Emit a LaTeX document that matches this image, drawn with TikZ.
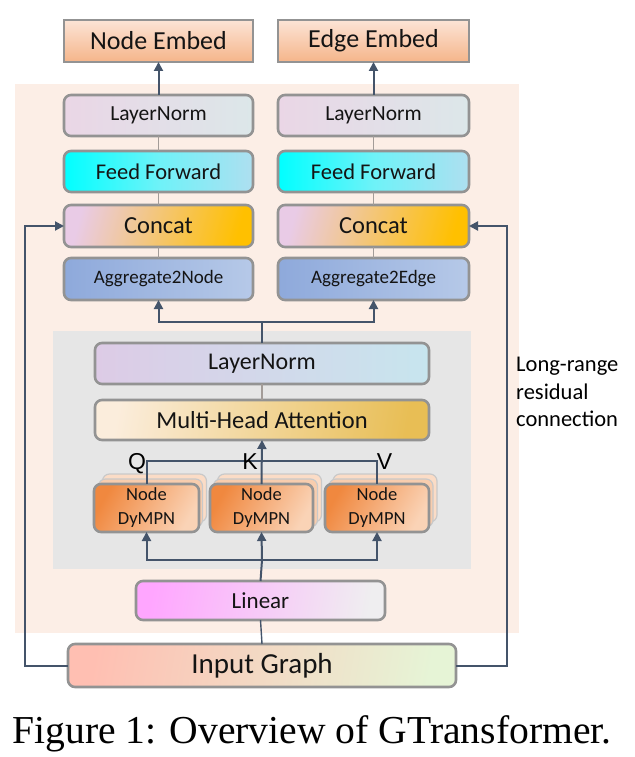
\documentclass[tikz,border=0pt]{standalone}
\usepackage{fontspec}
\setmainfont{Carlito}
\newfontfamily\qfont{Liberation Sans}
\newfontfamily\capfont{Liberation Serif}
\usetikzlibrary{arrows.meta}
\definecolor{bgpeach}{HTML}{FCEEE6}
\definecolor{graybg}{HTML}{E6E6E6}
\definecolor{bord}{HTML}{939393}
\definecolor{lnc}{HTML}{44546A}
\definecolor{thinc}{HTML}{A39C98}
\definecolor{txt}{HTML}{141414}
\definecolor{neT}{HTML}{FCE4D6}
\definecolor{neB}{HTML}{F5B58A}
\definecolor{lnL}{HTML}{EAD6E6}
\definecolor{lnR}{HTML}{DCE7E9}
\definecolor{ffL}{HTML}{00FFFF}
\definecolor{ffM}{HTML}{6EF2F8}
\definecolor{ffR}{HTML}{AEDFF0}
\definecolor{ccL}{HTML}{E9CBE6}
\definecolor{ccM}{HTML}{EFBFB6}
\definecolor{ccR}{HTML}{FFC000}
\definecolor{agL}{HTML}{8EA9DB}
\definecolor{agR}{HTML}{B6C9E8}
\definecolor{lmL}{HTML}{DDCBE6}
\definecolor{lmR}{HTML}{C7E5EE}
\definecolor{maL}{HTML}{FBEDDC}
\definecolor{maR}{HTML}{E8BE55}
\definecolor{dyL}{HTML}{F0883F}
\definecolor{dyR}{HTML}{FAD3B6}
\definecolor{sh1}{HTML}{FBDCC6}
\definecolor{sh2}{HTML}{F8CDAE}
\definecolor{liL}{HTML}{FFA6FF}
\definecolor{liM}{HTML}{F8D2F4}
\definecolor{liR}{HTML}{EFEEF0}
\definecolor{igL}{HTML}{FFBFB2}
\definecolor{igM}{HTML}{F8DCC6}
\definecolor{igR}{HTML}{E6F4D6}
\newcommand{\fs}[2]{\fontsize{#1}{#2}\selectfont}
\tikzset{
  x=1pt, y=-1pt,
  box/.style={draw=bord, line width=2.6pt, rounded corners=7pt, inner sep=0pt, outer sep=0pt, text=txt, align=center},
  sqbox/.style={draw=bord, line width=2.6pt, inner sep=0pt, outer sep=0pt, text=txt, align=center},
  conn/.style={draw=lnc, line width=2pt},
  arr/.style={draw=lnc, line width=2pt, -{Triangle[length=9pt,width=9pt]}},
  thin/.style={draw=thinc, line width=1.3pt},
  shadowlayer/.style={draw=bord!50, line width=1.2pt, rounded corners=7pt, fill=#1, minimum width=104pt, minimum height=48pt, inner sep=0pt, outer sep=0pt}
}
\begin{document}
\begin{tikzpicture}
\useasboundingbox (0,0) rectangle (634,757);
% backgrounds
\fill[bgpeach] (15,84) rectangle (519,633);
\fill[graybg] (53,331) rectangle (471,569);
% top embeds
\node[sqbox, top color=neT, bottom color=neB, minimum width=189pt, minimum height=42pt, font=\fs{26}{30}] (ne) at (158.5,41) {Node Embed};
\node[sqbox, top color=neT, bottom color=neB, minimum width=191pt, minimum height=42pt, font=\fs{26}{30}] (ee) at (373.5,41) {Edge Embed};
% left column
\node[box, left color=lnL, right color=lnR, minimum width=189pt, minimum height=41pt, font=\fs{21.5}{25}] (ln1) at (158.5,115.5) {LayerNorm};
\node[box, left color=ffL, right color=ffR, middle color=ffM, minimum width=189pt, minimum height=41pt, font=\fs{22.5}{26}] (ff1) at (158.5,171.5) {Feed Forward};
\node[box, left color=ccL, middle color=ccM, right color=ccR, shading angle=75, minimum width=189pt, minimum height=42pt, font=\fs{24.5}{28}] (cc1) at (158.5,226) {Concat};
\node[box, left color=agL, right color=agR, minimum width=189pt, minimum height=42pt, font=\fs{19}{23}] (ag1) at (158.5,279) {Aggregate2Node};
% right column
\node[box, left color=lnL, right color=lnR, minimum width=191pt, minimum height=41pt, font=\fs{21.5}{25}] (ln1r) at (373.5,115.5) {LayerNorm};
\node[box, left color=ffL, right color=ffR, middle color=ffM, minimum width=191pt, minimum height=41pt, font=\fs{22.5}{26}] (ff1r) at (373.5,171.5) {Feed Forward};
\node[box, left color=ccL, middle color=ccM, right color=ccR, shading angle=75, minimum width=191pt, minimum height=42pt, font=\fs{24.5}{28}] (cc1r) at (373.5,226) {Concat};
\node[box, left color=agL, right color=agR, minimum width=191pt, minimum height=42pt, font=\fs{19}{23}] (ag1r) at (373.5,279) {Aggregate2Edge};
% middle block
\node[box, left color=lmL, right color=lmR, minimum width=334pt, minimum height=41pt, font=\fs{24}{28}] (ln2) at (262,363.5) {LayerNorm};
\node[box, left color=maL, right color=maR, shading angle=80, minimum width=334pt, minimum height=40pt, font=\fs{24.5}{28}] (mha) at (262,420) {Multi-Head Attention};
% DyMPN stacks
\foreach \cx in {146.5, 261.5, 377}{
  \node[shadowlayer=sh1] at (\cx+8,498) {};
  \node[shadowlayer=sh2] at (\cx+4,503) {};
}
\node[box, left color=dyL, right color=dyR, shading angle=60, minimum width=105pt, minimum height=48pt, font=\fs{18.5}{24}] (d1) at (146.5,508) {Node\\DyMPN};
\node[box, left color=dyL, right color=dyR, shading angle=60, minimum width=103pt, minimum height=48pt, font=\fs{18.5}{24}] (d2) at (261.5,508) {Node\\DyMPN};
\node[box, left color=dyL, right color=dyR, shading angle=60, minimum width=104pt, minimum height=48pt, font=\fs{18.5}{24}] (d3) at (377,508) {Node\\DyMPN};
% linear and input
\node[box, left color=liL, middle color=liM, right color=liR, shading angle=80, minimum width=249pt, minimum height=39pt, font=\fs{23}{27}] (lin) at (260.5,600.5) {Linear};
\node[box, left color=igL, middle color=igM, right color=igR, shading angle=80, minimum width=388pt, minimum height=43pt, font=\fs{29}{33}] (ig) at (262,665.5) {Input Graph};
% coordinates
\coordinate (tj) at (262,322);
\coordinate (tl) at (158.5,322);
\coordinate (tr) at (373.5,322);
\coordinate (qa) at (146.5,461);
\coordinate (va) at (377,461);
\coordinate (bj) at (262,560);
\coordinate (bl) at (146.5,560);
\coordinate (br) at (377,560);
\coordinate (rl1) at (25,665.5);
\coordinate (rl2) at (25,226);
\coordinate (rr1) at (507,665.5);
\coordinate (rr2) at (507,226);
% connectors top
\draw[arr] (ln1.north) -- (ne.south);
\draw[arr] (ln1r.north) -- (ee.south);
\draw[thin] (ln1.south) -- (ff1.north);
\draw[thin] (ff1.south) -- (cc1.north);
\draw[thin] (cc1.south) -- (ag1.north);
\draw[thin] (ln1r.south) -- (ff1r.north);
\draw[thin] (ff1r.south) -- (cc1r.north);
\draw[thin] (cc1r.south) -- (ag1r.north);
\draw[conn] (ln2.north) -- (tj);
\draw[arr] (tj) -- (tl) -- (ag1.south);
\draw[arr] (tj) -- (tr) -- (ag1r.south);
\draw[thin] (ln2.south) -- (mha.north);
% QKV
\draw[conn] (d1.north) -- (qa) -- (va) -- (d3.north);
\draw[arr] (d2.north) -- (mha.south);
\node[font=\qfont\fs{23}{26}, text=black, inner sep=0pt, anchor=base] (q) at (137,469) {Q};
\node[font=\qfont\fs{23}{26}, text=black, inner sep=0pt, anchor=base] (k) at (250,469) {K};
\node[font=\qfont\fs{23}{26}, text=black, inner sep=0pt, anchor=base] (v) at (384.5,469) {V};
% bottom
\draw[conn] (lin.north) -- (bj);
\draw[arr] (bj) -- (bl) -- (d1.south);
\draw[arr] (bj) -- (br) -- (d3.south);
\draw[arr] (bj) -- (d2.south);
\draw[conn, line width=1.4pt] (ig.north) -- (lin.south);
% residuals
\draw[arr] (ig.west) -- (rl1) -- (rl2) -- (cc1.west);
\draw[arr] (ig.east) -- (rr1) -- (rr2) -- (cc1r.east);
\node[font=\fs{22.5}{27.5}, text=black, align=left, anchor=north west, inner sep=0pt] (lr) at (516,357) {Long-range\\residual\\connection};
% caption
\node[font=\capfont\fs{39.6}{44}, text=black, inner sep=0pt, anchor=base] (cap) at (312,743) {Figure 1: Overview of GTransformer.};
\end{tikzpicture}
\end{document}
